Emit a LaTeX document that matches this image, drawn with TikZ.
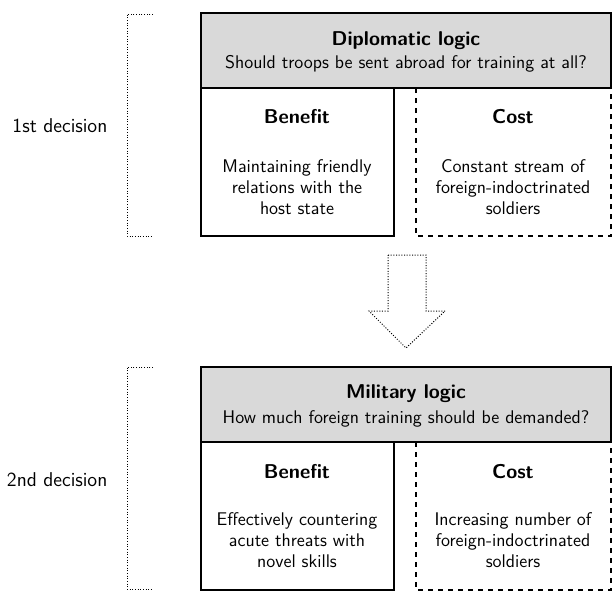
\documentclass[tikz,border=0pt]{standalone}
\renewcommand{\familydefault}{\sfdefault}
\tikzset{every picture/.style={line width=0.8pt}}
\tikzset{
  txt/.style={anchor=base,inner sep=0pt,align=center,font={\fontsize{11}{12.4}\selectfont}},
  bold/.style={txt,font={\fontsize{12}{14}\selectfont\bfseries}},
  side/.style={anchor=base east,inner sep=0pt,font={\fontsize{12}{14}\selectfont}},
  brack/.style={densely dotted,line width=0.6pt}
}
\begin{document}
\begin{tikzpicture}[x=0.6pt,y=0.6pt,yscale=-1]
\useasboundingbox (0,0) rectangle (612,591);

%First decision: header
\draw [fill=gray!30] (201,13) rectangle (611,88);
%Benefit box
\draw (201,88) rectangle (394,236);
%Cost box
\draw [dashed] (416,88) -- (416,236) -- (611,236) -- (611,88);

%Bracket
\draw [brack] (153,14) -- (127,14) -- (127,236) -- (153,236);

% Text Node
\node [bold] (dlogic) at (406,45) {Diplomatic logic};
\node [txt] (dquest) at (406,68) {Should troops be sent abroad for training at all?};
\node [bold] (dben) at (297,123) {Benefit};
\node [txt] (dbentxt) at (297,214) {Maintaining friendly\\relations with the\\host state};
\node [bold] (dcost) at (513,123) {Cost};
\node [txt] (dcosttxt) at (513,214) {Constant stream of\\foreign-indoctrinated\\soldiers};
\node [side] (first) at (108,132) {1st decision};

%Arrow
\draw [brack] (388,255) -- (426,255) -- (426,311) -- (445,311) -- (406,348) -- (369,311) -- (388,311) -- cycle;

%Second decision: header
\draw [fill=gray!30] (201,367) rectangle (611,442);
%Benefit box
\draw (201,442) rectangle (394,590);
%Cost box
\draw [dashed] (416,442) -- (416,590) -- (611,590) -- (611,442);

%Bracket
\draw [brack] (153,367) -- (127,367) -- (127,589) -- (153,589);

% Text Node
\node [bold] (mlogic) at (406,398) {Military logic};
\node [txt] (mquest) at (406,423) {How much foreign training should be demanded?};
\node [bold] (mben) at (297,478) {Benefit};
\node [txt] (mbentxt) at (297,567) {Effectively countering\\acute threats with\\novel skills};
\node [bold] (mcost) at (513,478) {Cost};
\node [txt] (mcosttxt) at (513,567) {Increasing number of\\foreign-indoctrinated\\soldiers};
\node [side] (second) at (108,486) {2nd decision};

\end{tikzpicture}
\end{document}
